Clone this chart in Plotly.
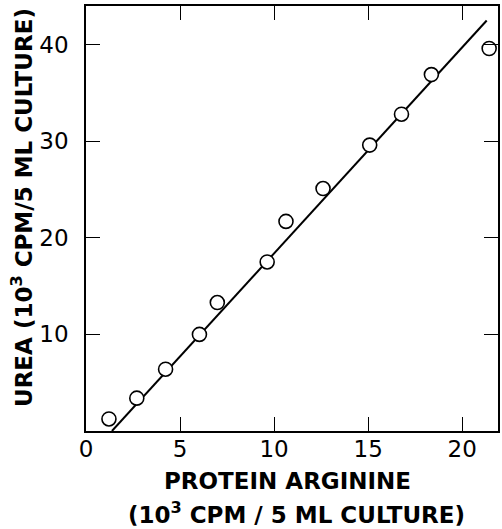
import plotly.graph_objects as go

# data
arginine = [1.22, 2.70, 4.23, 6.03, 6.98, 9.63, 10.63, 12.60, 15.08, 16.77, 18.36, 21.43]
urea = [1.25, 3.4, 6.4, 10.0, 13.3, 17.5, 21.7, 25.1, 29.6, 32.8, 36.9, 39.6]
fit_x = [1.38, 21.3]
fit_y = [0.0, 42.5]
x_ticks = [0, 5, 10, 15, 20]
y_ticks = [10, 20, 30, 40]

fig = go.Figure()
fig.add_trace(go.Scatter(x=fit_x, y=fit_y, mode="lines",
                         line=dict(color="black", width=2), showlegend=False,
                         cliponaxis=False))
fig.add_trace(go.Scatter(x=arginine, y=urea, mode="markers",
                         marker=dict(symbol="circle", size=14, color="white",
                                     line=dict(color="black", width=1.6)),
                         showlegend=False, cliponaxis=True))

axis_common = dict(showgrid=False, zeroline=False, showline=True, linecolor="black",
                   linewidth=1.6, mirror="ticks", ticks="inside", ticklen=14,
                   tickwidth=1.4, tickcolor="black",
                   tickfont=dict(family="DejaVu Sans", size=23, color="black"))

fig.update_xaxes(range=[0, 21.9], tickvals=x_ticks, ticktext=[str(v) for v in x_ticks],
                 ticklabelstandoff=-3, **axis_common)
fig.update_yaxes(range=[0, 44], tickvals=y_ticks, ticktext=[str(v) for v in y_ticks],
                 ticklabelstandoff=11, **axis_common)

title_font = dict(family="DejaVu Sans", size=23, color="black")
fig.update_layout(
    width=502, height=529,
    margin=dict(l=86, r=2, t=6, b=98),
    paper_bgcolor="white", plot_bgcolor="white",
    annotations=[
        dict(text="<b>PROTEIN ARGININE</b>", xref="paper", yref="paper",
             x=0.49, y=-0.1176, xanchor="center", yanchor="middle", showarrow=False,
             font=title_font),
        dict(text="<b>(10<sup>3</sup> CPM / 5 ML CULTURE)</b>", xref="paper", yref="paper",
             x=0.51, y=-0.192, xanchor="center", yanchor="middle", showarrow=False,
             font=title_font),
        dict(text="<b>UREA (10<sup>3</sup> CPM/5 ML CULTURE)</b>", xref="paper", yref="paper",
             x=-0.155, y=0.525, xanchor="center", yanchor="middle", showarrow=False,
             textangle=-90, font=title_font),
    ],
)

fig.write_html("out.html", config={"displayModeBar": False},
               post_script="document.body.style.margin='0';")
